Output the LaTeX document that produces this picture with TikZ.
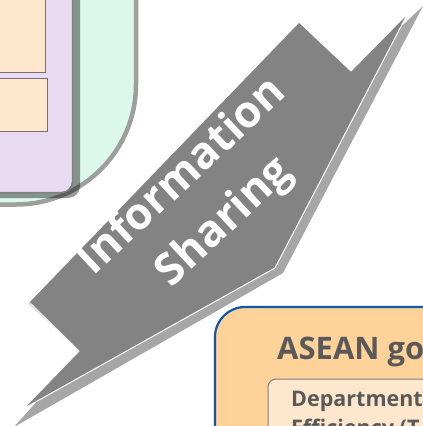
\documentclass[tikz,border=0pt]{standalone}
\usepackage{fontspec}
\setmainfont{Open Sans}
\usepackage{tikz}
\usetikzlibrary{calc}
\definecolor{mint}{HTML}{DCF7EC}
\definecolor{lilac}{HTML}{E8DAF3}
\definecolor{peach}{HTML}{FEE7CC}
\definecolor{apricot}{HTML}{FFD29A}
\definecolor{seablue}{HTML}{1059A8}
\definecolor{arrowgray}{HTML}{838383}
\definecolor{shadowgray}{HTML}{A6A6A6}
\definecolor{textgray}{HTML}{595959}

\begin{document}
\begin{tikzpicture}[x=1pt,y=-1pt,
  outerbox/.style={fill=mint,draw=shadowgray!95!black,line width=4.5pt},
  groupbox/.style={fill=lilac,draw=gray,line width=1.5pt,rounded corners=11pt},
  itembox/.style={fill=peach,draw=gray!90!black,line width=1pt},
  aseanbox/.style={fill=apricot,draw=seablue,line width=2.2pt,rounded corners=30pt},
  deptbox/.style={fill=peach,draw=gray,line width=1pt,rounded corners=8pt},
  arrowtxt/.style={text=white,font=\bfseries\fontsize{44}{62}\selectfont,align=center},
  headtxt/.style={text=textgray,font=\bfseries\fontsize{31}{36}\selectfont},
  deptxt/.style={text=textgray,font=\bfseries\fontsize{21.5}{28}\selectfont}]
\useasboundingbox (0,0) rectangle (423,426);
\clip (0,0) rectangle (423,426);

% top left group
\draw[outerbox] (-20,-20) -- (136,-20) [rounded corners=120pt] -- (136,204.5)
  [sharp corners] -- (-20,204.5) -- cycle;
\fill[black,opacity=.4,rounded corners=12pt] (-20,-20) rectangle (80,198);
\draw[groupbox] (-20,-20) rectangle (72.5,192.5);
\draw[itembox] (-10,-10) rectangle (45,72);
\draw[itembox] (-10,78) rectangle (47,131);

% the arrow, shadow first
\fill[shadowgray] (300,23.5) -- (352.5,72.5) -- (423,6) -- (283,273)
  -- (14,427) -- (80.5,352.5) -- (29,303.5) -- cycle;
\draw[fill=arrowgray,draw=white,line width=1pt] (299,22) -- (351,71) -- (408,13)
  -- (275,268) -- (23,409) -- (79,351) -- (29,302) -- cycle;
\node[arrowtxt,rotate=43] (info) at (204,200) {Information\\Sharing};

% bottom right group
\draw[aseanbox] (215,307) rectangle (480,500);
\node[headtxt,anchor=base west,inner sep=0pt] (asean) at (277,359) {ASEAN go};
\draw[deptbox] (268,379) rectangle (480,500);
\node[deptxt,anchor=base west,inner sep=0pt] (dept) at (291,406.5) {Department};
\node[deptxt,anchor=base west,inner sep=0pt] (eff) at (291,435) {Efficiency (T};
\end{tikzpicture}
\end{document}
